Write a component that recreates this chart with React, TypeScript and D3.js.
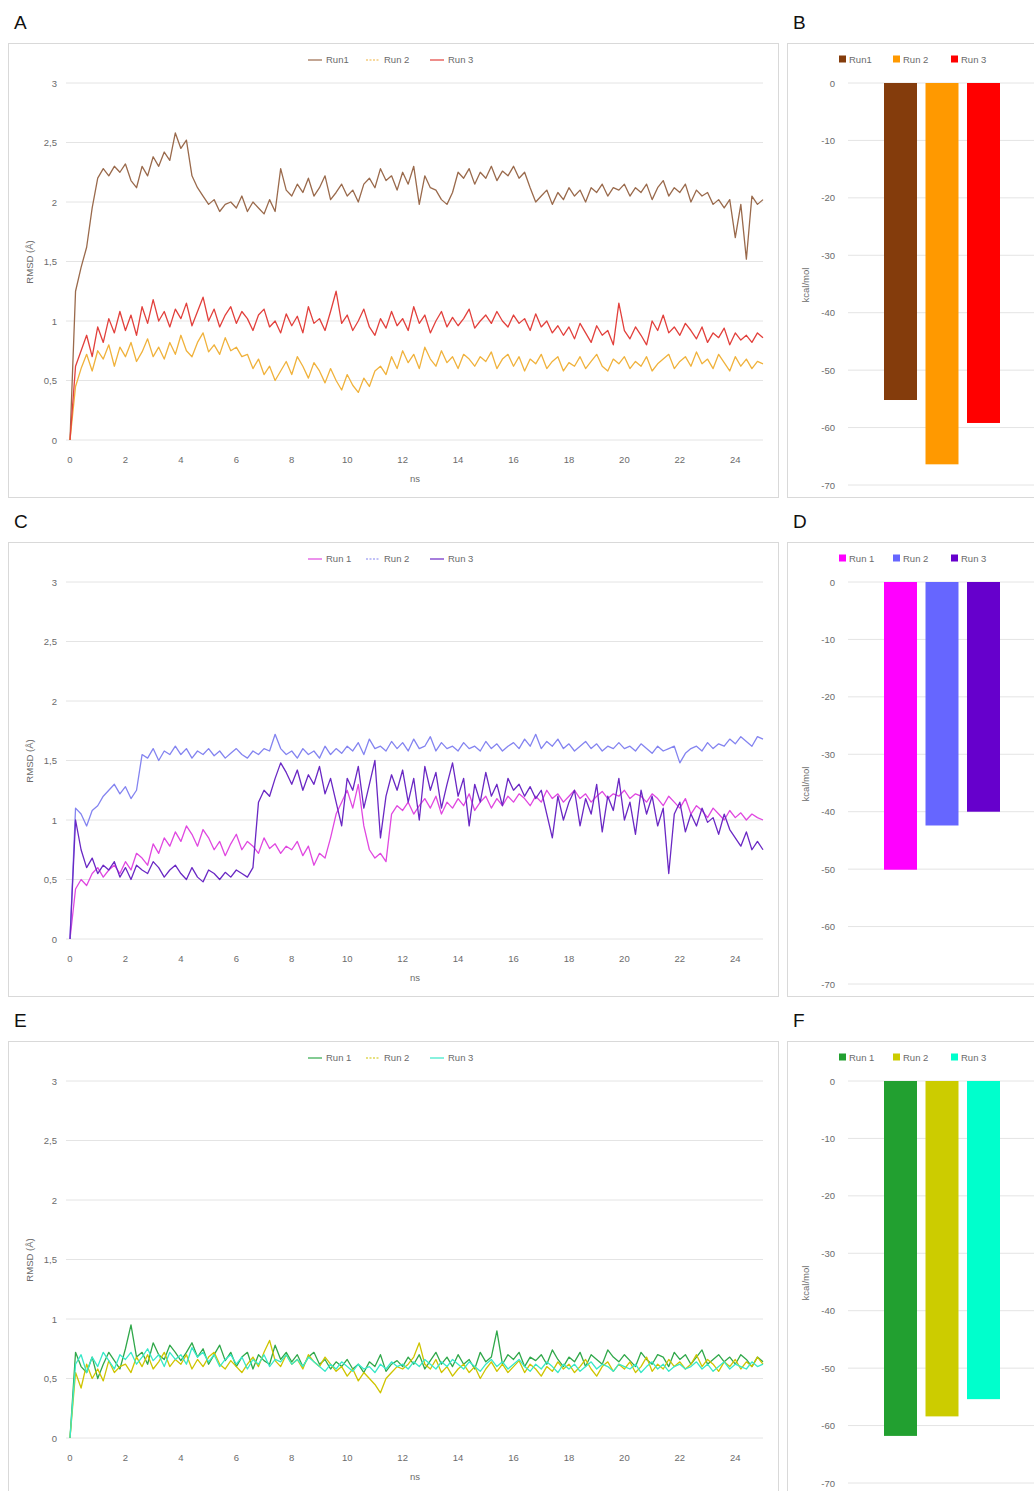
import * as d3 from "d3";

// samples every 0.2 ns, 0..25 ns
const TIME_STEP = 0.2;

const xTicks = [0, 2, 4, 6, 8, 10, 12, 14, 16, 18, 20, 22, 24];
const rmsdTicks = [0, 0.5, 1, 1.5, 2, 2.5, 3];
const energyTicks = [0, -10, -20, -30, -40, -50, -60, -70];

const labelsTop = ["Run1", "Run 2", "Run 3"];
const labelsRest = ["Run 1", "Run 2", "Run 3"];

// panel A (RMSD, Å)
const rmsdA1 = [
  0, 1.25, 1.45, 1.62, 1.95, 2.2, 2.28, 2.22, 2.3, 2.25,
  2.32, 2.18, 2.12, 2.3, 2.22, 2.38, 2.3, 2.42, 2.35, 2.58,
  2.45, 2.52, 2.22, 2.12, 2.05, 1.98, 2.02, 1.92, 1.98, 2.0,
  1.95, 2.05, 1.92, 2.0, 1.95, 1.9, 2.02, 1.92, 2.28, 2.1,
  2.05, 2.15, 2.08, 2.2, 2.05, 2.12, 2.22, 2.02, 2.08, 2.15,
  2.05, 2.1, 2.0, 2.15, 2.2, 2.12, 2.28, 2.18, 2.22, 2.1,
  2.25, 2.15, 2.3, 1.98, 2.22, 2.12, 2.1, 2.02, 1.98, 2.08,
  2.25, 2.2, 2.28, 2.15, 2.25, 2.2, 2.3, 2.18, 2.26, 2.22,
  2.3, 2.2, 2.25, 2.12, 2.0, 2.05, 2.1, 1.98, 2.08, 2.02,
  2.12, 2.05, 2.1, 2.0, 2.12, 2.08, 2.15, 2.05, 2.12, 2.1,
  2.15, 2.05, 2.12, 2.08, 2.15, 2.02, 2.12, 2.18, 2.05, 2.12,
  2.08, 2.15, 2.0, 2.1, 2.05, 2.08, 1.98, 2.02, 1.95, 2.02,
  1.7, 1.98, 1.52, 2.05, 1.98, 2.02,
];
const rmsdA2 = [
  0, 0.45, 0.6, 0.72, 0.58, 0.75, 0.68, 0.8, 0.62, 0.78,
  0.7, 0.82, 0.66, 0.74, 0.85, 0.7, 0.78, 0.68, 0.82, 0.72,
  0.88, 0.75, 0.7, 0.82, 0.9, 0.74, 0.8, 0.72, 0.86, 0.75,
  0.78, 0.7, 0.72, 0.6, 0.68, 0.55, 0.62, 0.5, 0.58, 0.66,
  0.55, 0.7, 0.62, 0.52, 0.65, 0.58, 0.48, 0.6, 0.5, 0.42,
  0.55, 0.46, 0.4, 0.52, 0.45, 0.58, 0.62, 0.55, 0.7, 0.6,
  0.75, 0.65, 0.72, 0.6, 0.78, 0.68, 0.62, 0.75, 0.65, 0.7,
  0.6, 0.72, 0.68, 0.62, 0.7, 0.66, 0.74, 0.6, 0.68, 0.72,
  0.62, 0.7, 0.58, 0.68, 0.64, 0.72, 0.6, 0.66, 0.7, 0.58,
  0.65, 0.62, 0.7, 0.6, 0.66, 0.72, 0.62, 0.58, 0.68, 0.64,
  0.7, 0.6, 0.66, 0.62, 0.7, 0.58, 0.64, 0.68, 0.72, 0.6,
  0.66, 0.7, 0.62, 0.74, 0.64, 0.68, 0.6, 0.72, 0.65, 0.58,
  0.7, 0.62, 0.68, 0.6, 0.66, 0.64,
];
const rmsdA3 = [
  0, 0.62, 0.75, 0.88, 0.7, 0.95, 0.82, 1.02, 0.9, 1.08,
  0.92, 1.05, 0.88, 1.12, 0.98, 1.18, 1.0, 1.08, 0.95, 1.1,
  1.02, 1.15, 0.96, 1.08, 1.2, 1.0, 1.1, 0.95, 1.05, 1.12,
  0.98, 1.08, 1.02, 0.92, 1.05, 1.1, 0.95, 1.0, 0.9, 1.06,
  0.96, 1.04, 0.9, 1.12, 0.98, 1.02, 0.92, 1.08, 1.25, 0.98,
  1.05, 0.92, 1.0, 1.1, 0.95, 0.88, 1.02, 0.94, 1.08, 0.96,
  1.02, 0.92, 1.12, 0.98, 1.05, 0.9, 1.0, 1.08, 0.95, 1.03,
  0.96, 1.02, 1.1, 0.94, 1.0, 1.05, 0.98, 1.08, 1.0, 0.95,
  1.05, 0.98, 1.02, 0.92, 1.06, 0.95, 1.0, 0.9, 0.96, 0.88,
  0.95, 0.85, 0.98, 0.9, 0.82, 0.96, 0.88, 0.92, 0.8, 1.15,
  0.92, 0.85, 0.95, 0.88, 0.8, 1.0, 0.92, 1.05, 0.9, 0.95,
  0.88, 0.98, 0.92, 0.85, 0.95, 0.82, 0.9, 0.86, 0.94, 0.8,
  0.9, 0.84, 0.88, 0.82, 0.9, 0.86,
];

// panel C
const rmsdC1 = [
  0, 0.42, 0.5, 0.45, 0.55, 0.6, 0.52, 0.58, 0.62, 0.55,
  0.65, 0.58, 0.72, 0.68, 0.62, 0.8, 0.72, 0.85, 0.78, 0.9,
  0.82, 0.95, 0.88, 0.78, 0.92, 0.85, 0.75, 0.82, 0.7, 0.8,
  0.88, 0.75, 0.82, 0.78, 0.72, 0.85, 0.76, 0.8, 0.72, 0.78,
  0.75, 0.82, 0.7, 0.78, 0.62, 0.72, 0.68, 0.85, 1.05, 1.15,
  1.25, 1.1, 1.3, 0.95, 0.75, 0.68, 0.72, 0.65, 1.05, 1.12,
  1.08, 1.15, 1.05, 1.12, 1.18, 1.1, 1.2, 1.05, 1.15, 1.1,
  1.18, 1.12, 1.22, 1.08, 1.15, 1.2, 1.1, 1.18, 1.12, 1.2,
  1.15, 1.22, 1.18, 1.12, 1.2, 1.15, 1.25, 1.18, 1.22, 1.15,
  1.2, 1.25, 1.18, 1.22, 1.15, 1.2, 1.24, 1.18, 1.22, 1.2,
  1.25, 1.18, 1.22, 1.2, 1.15, 1.22, 1.18, 1.12, 1.2, 1.15,
  1.1, 1.18, 1.05, 1.12, 1.08, 1.02, 1.1, 1.05, 1.0, 1.08,
  1.02, 1.06, 1.0, 1.05, 1.02, 1.0,
];
const rmsdC2 = [
  0, 1.1, 1.05, 0.95, 1.08, 1.12, 1.2, 1.25, 1.3, 1.22,
  1.28, 1.18, 1.25, 1.55, 1.52, 1.6, 1.5, 1.58, 1.55, 1.62,
  1.55, 1.6, 1.52, 1.58, 1.55, 1.6, 1.54, 1.58, 1.52, 1.56,
  1.6, 1.55, 1.52, 1.58, 1.55, 1.6, 1.58, 1.72, 1.6, 1.55,
  1.58, 1.52, 1.6, 1.55, 1.58, 1.52, 1.62, 1.55, 1.6, 1.56,
  1.62, 1.58, 1.65, 1.55, 1.68, 1.6, 1.62, 1.58, 1.66, 1.6,
  1.65, 1.58, 1.68, 1.6, 1.62, 1.7, 1.58, 1.65, 1.6, 1.62,
  1.58, 1.65, 1.6, 1.62, 1.58, 1.66, 1.6, 1.64, 1.58, 1.62,
  1.65, 1.6, 1.68, 1.62, 1.72, 1.6, 1.66, 1.62, 1.68, 1.6,
  1.64, 1.58, 1.62, 1.66, 1.6, 1.64, 1.58, 1.62, 1.6, 1.65,
  1.6, 1.62, 1.58, 1.64, 1.6, 1.56, 1.62, 1.58, 1.6, 1.62,
  1.48, 1.56, 1.6, 1.62, 1.58, 1.65, 1.6, 1.64, 1.62, 1.68,
  1.64, 1.7, 1.66, 1.62, 1.7, 1.68,
];
const rmsdC3 = [
  0, 1.0, 0.75, 0.6, 0.68, 0.55, 0.62, 0.58, 0.65, 0.52,
  0.6, 0.5, 0.62, 0.58, 0.55, 0.65, 0.6, 0.52, 0.58, 0.62,
  0.55, 0.5, 0.6, 0.52, 0.48, 0.58, 0.55, 0.5, 0.56, 0.52,
  0.58, 0.55, 0.52, 0.6, 1.15, 1.25, 1.2, 1.35, 1.48, 1.4,
  1.3, 1.42, 1.25, 1.38, 1.3, 1.45, 1.22, 1.35, 1.15, 0.95,
  1.35, 1.25, 1.45, 1.1, 1.3, 1.5, 0.85, 1.2, 1.38, 1.25,
  1.42, 1.15, 1.35, 1.0, 1.45, 1.25, 1.4, 1.1, 1.3, 1.48,
  1.2, 1.35, 0.95, 1.3, 1.15, 1.4, 1.2, 1.3, 1.12, 1.35,
  1.25, 1.3, 1.2, 1.28, 1.18, 1.25, 1.05, 0.85, 1.2, 1.0,
  1.15, 1.25, 0.95, 1.18, 1.05, 1.3, 0.9, 1.2, 1.08, 1.35,
  1.0, 1.15, 0.88, 1.25, 1.05, 1.2, 0.95, 1.1, 0.55, 1.05,
  1.15, 0.9, 1.05, 0.95, 1.1, 0.98, 1.02, 0.88, 1.05, 0.92,
  0.85, 0.78, 0.9, 0.75, 0.82, 0.75,
];

// panel E
const rmsdE1 = [
  0, 0.72, 0.6, 0.55, 0.68, 0.5, 0.62, 0.72, 0.65, 0.58,
  0.75, 0.95, 0.68, 0.72, 0.62, 0.8, 0.7, 0.66, 0.78, 0.72,
  0.65, 0.72, 0.8, 0.68, 0.75, 0.62, 0.7, 0.78, 0.65, 0.72,
  0.6, 0.68, 0.72, 0.58, 0.7, 0.65, 0.62, 0.78, 0.66, 0.72,
  0.64, 0.7, 0.6, 0.68, 0.72, 0.62, 0.66, 0.58, 0.64, 0.6,
  0.66, 0.58, 0.62, 0.55, 0.64, 0.6, 0.7, 0.56, 0.62, 0.65,
  0.6, 0.68, 0.62, 0.7, 0.58, 0.65, 0.72, 0.62, 0.68, 0.6,
  0.7, 0.62, 0.66, 0.58, 0.72, 0.64, 0.68, 0.9, 0.62, 0.7,
  0.66, 0.72, 0.6, 0.68, 0.65, 0.7, 0.62, 0.74, 0.66, 0.6,
  0.68, 0.64, 0.72, 0.6, 0.7, 0.66, 0.62, 0.74, 0.68, 0.64,
  0.7, 0.65, 0.6, 0.72, 0.66, 0.62, 0.7, 0.68, 0.6, 0.72,
  0.66, 0.7, 0.62, 0.68, 0.74, 0.62, 0.66, 0.7, 0.64, 0.68,
  0.62, 0.7, 0.66, 0.6, 0.68, 0.64,
];
const rmsdE2 = [
  0, 0.55, 0.42, 0.62, 0.5, 0.58, 0.48, 0.65, 0.55, 0.6,
  0.62, 0.55, 0.68, 0.6, 0.7, 0.58, 0.64, 0.72, 0.6, 0.66,
  0.62, 0.7, 0.58, 0.66, 0.6, 0.68, 0.72, 0.62, 0.58, 0.65,
  0.6, 0.55, 0.62, 0.68, 0.6, 0.72, 0.82, 0.65, 0.6, 0.7,
  0.62, 0.66, 0.58, 0.7, 0.64, 0.6, 0.68, 0.62, 0.56, 0.6,
  0.52, 0.58, 0.48, 0.55, 0.5, 0.45, 0.38, 0.5, 0.55, 0.6,
  0.58, 0.62, 0.68, 0.8, 0.62, 0.58, 0.66, 0.55, 0.6, 0.52,
  0.58, 0.62, 0.55, 0.6, 0.5, 0.58, 0.64, 0.56, 0.62, 0.55,
  0.6, 0.65, 0.55, 0.62, 0.58, 0.52, 0.6, 0.56, 0.64, 0.58,
  0.62, 0.55, 0.6, 0.66, 0.58, 0.52, 0.6, 0.64, 0.56, 0.62,
  0.58, 0.64, 0.55, 0.6, 0.68, 0.56, 0.62, 0.58, 0.66, 0.6,
  0.64, 0.58, 0.62, 0.7, 0.6, 0.66, 0.62, 0.56, 0.64, 0.6,
  0.66, 0.58, 0.64, 0.6, 0.68, 0.62,
];
const rmsdE3 = [
  0, 0.62, 0.7, 0.55, 0.68, 0.6, 0.72, 0.65, 0.58, 0.7,
  0.66, 0.72, 0.62, 0.68, 0.75, 0.65, 0.7, 0.6, 0.72, 0.66,
  0.7, 0.62, 0.76, 0.68, 0.72, 0.64, 0.7, 0.6, 0.66, 0.7,
  0.62, 0.68, 0.58, 0.66, 0.62, 0.7, 0.6, 0.66, 0.64, 0.7,
  0.62, 0.66, 0.6, 0.68, 0.64, 0.6, 0.56, 0.62, 0.58, 0.64,
  0.6, 0.56, 0.62, 0.58, 0.6, 0.55, 0.62, 0.58, 0.64, 0.6,
  0.62, 0.58, 0.64, 0.6, 0.66, 0.62, 0.58, 0.64, 0.6, 0.66,
  0.62, 0.58, 0.64, 0.6, 0.56, 0.62, 0.66, 0.6, 0.64, 0.58,
  0.62, 0.66, 0.6, 0.56, 0.62, 0.58, 0.64, 0.6, 0.55, 0.62,
  0.58, 0.62, 0.56, 0.6, 0.64, 0.58, 0.62, 0.6, 0.56, 0.62,
  0.6, 0.58, 0.62, 0.55, 0.6, 0.64, 0.58, 0.62, 0.56, 0.6,
  0.62, 0.58, 0.6, 0.64, 0.58, 0.62, 0.56, 0.6, 0.64, 0.58,
  0.62, 0.6, 0.58, 0.64, 0.6, 0.62,
];

// binding energies, kcal/mol
const energyB = [-55.2, -66.4, -59.2];
const energyD = [-50.1, -42.4, -40.0];
const energyF = [-61.8, -58.4, -55.4];

const colorsA = ["#9a6a4c", "#f0b23c", "#e2403c"];
const colorsB = ["#843c0c", "#ff9900", "#ff0000"];
const colorsC = ["#e048e0", "#8484f0", "#6a28c4"];
const colorsD = ["#ff00ff", "#6666ff", "#6600cc"];
const colorsE = ["#30a84a", "#cfc400", "#38e8c8"];
const colorsF = ["#22a030", "#cccc00", "#00ffcc"];

const FONT = "'Liberation Sans', Arial, sans-serif";
const TICK = "#6b6b6b";
const GRID = "#e4e4e4";
const fmt = (v: number) => String(v).replace(".", ",");

const x = d3.scaleLinear().domain([0, 25]).range([70, 763]);
const yR = d3.scaleLinear().domain([0, 3]).range([440, 83]);
const yE = d3.scaleLinear().domain([-70, 0]).range([485, 83]);

const ROW_DY = [0, 499, 998];

function LinePanel({ dy, series, colors, labels, letter }) {
  const line = d3
    .line<number>()
    .x((_, i) => x(i * TIME_STEP))
    .y((d) => yR(d));
  const legendX = [308, 366, 430];
  return (
    <g transform={`translate(0,${dy})`}>
      <text x={14} y={29} fontSize={19} fontFamily={FONT} fill="#111">{letter}</text>
      <rect x={8.5} y={43.5} width={770} height={454} fill="white" stroke="#d9d9d9" />
      {rmsdTicks.map((t) => (
        <g key={t}>
          <line x1={66} x2={763} y1={yR(t)} y2={yR(t)} stroke={GRID} />
          <text x={57} y={yR(t) + 3.5} textAnchor="end" fontSize={9.5} fontFamily={FONT} fill={TICK}>
            {fmt(t)}
          </text>
        </g>
      ))}
      {xTicks.map((t) => (
        <text key={t} x={x(t)} y={463} textAnchor="middle" fontSize={9.5} fontFamily={FONT} fill={TICK}>
          {t}
        </text>
      ))}
      <text x={415} y={482} textAnchor="middle" fontSize={9.5} fontFamily={FONT} fill={TICK}>ns</text>
      <text
        transform={`translate(33,262) rotate(-90)`}
        textAnchor="middle"
        fontSize={9.5}
        fontFamily={FONT}
        fill={TICK}
      >
        RMSD (Å)
      </text>
      {series.map((s, k) => (
        <path key={k} d={line(s) || ""} fill="none" stroke={colors[k]} strokeWidth={1.3} strokeLinejoin="round" />
      ))}
      {labels.map((l, k) => (
        <g key={l}>
          <line
            x1={legendX[k]}
            x2={legendX[k] + 14}
            y1={60}
            y2={60}
            stroke={colors[k]}
            strokeWidth={1.2}
            strokeDasharray={k === 1 ? "2,1.5" : undefined}
          />
          <text x={legendX[k] + 18} y={63} fontSize={9.5} fontFamily={FONT} fill={TICK}>{l}</text>
        </g>
      ))}
    </g>
  );
}

function BarPanel({ dy, values, colors, labels, letter }) {
  const xb = d3.scaleBand<string>().domain(labels).range([884, 1000]).paddingInner(0.205);
  const legendX = [839, 893, 951];
  return (
    <g transform={`translate(0,${dy})`}>
      <text x={793} y={29} fontSize={19} fontFamily={FONT} fill="#111">{letter}</text>
      <rect x={787.5} y={43.5} width={260} height={454} fill="white" stroke="#d9d9d9" />
      {energyTicks.map((t) => (
        <g key={t}>
          <line x1={848} x2={1034} y1={yE(t)} y2={yE(t)} stroke={GRID} />
          <text x={835} y={yE(t) + 3.5} textAnchor="end" fontSize={9.5} fontFamily={FONT} fill={TICK}>
            {t}
          </text>
        </g>
      ))}
      <text
        transform={`translate(809,285) rotate(-90)`}
        textAnchor="middle"
        fontSize={9.5}
        fontFamily={FONT}
        fill={TICK}
      >
        kcal/mol
      </text>
      {values.map((v, k) => (
        <rect
          key={k}
          x={xb(labels[k])}
          y={yE(0)}
          width={xb.bandwidth()}
          height={yE(v) - yE(0)}
          fill={colors[k]}
        />
      ))}
      {labels.map((l, k) => (
        <g key={l}>
          <rect x={legendX[k]} y={55.5} width={7} height={7} fill={colors[k]} />
          <text x={legendX[k] + 10} y={63} fontSize={9.5} fontFamily={FONT} fill={TICK}>{l}</text>
        </g>
      ))}
    </g>
  );
}

export default function App() {
  return (
    <svg width={1034} height={1491} style={{ position: "absolute", left: 0, top: 0, background: "white" }}>
      <rect width={1034} height={1491} fill="white" />
      <LinePanel dy={ROW_DY[0]} series={[rmsdA1, rmsdA2, rmsdA3]} colors={colorsA} labels={labelsTop} letter="A" />
      <BarPanel dy={ROW_DY[0]} values={energyB} colors={colorsB} labels={labelsTop} letter="B" />
      <LinePanel dy={ROW_DY[1]} series={[rmsdC1, rmsdC2, rmsdC3]} colors={colorsC} labels={labelsRest} letter="C" />
      <BarPanel dy={ROW_DY[1]} values={energyD} colors={colorsD} labels={labelsRest} letter="D" />
      <LinePanel dy={ROW_DY[2]} series={[rmsdE1, rmsdE2, rmsdE3]} colors={colorsE} labels={labelsRest} letter="E" />
      <BarPanel dy={ROW_DY[2]} values={energyF} colors={colorsF} labels={labelsRest} letter="F" />
    </svg>
  );
}
